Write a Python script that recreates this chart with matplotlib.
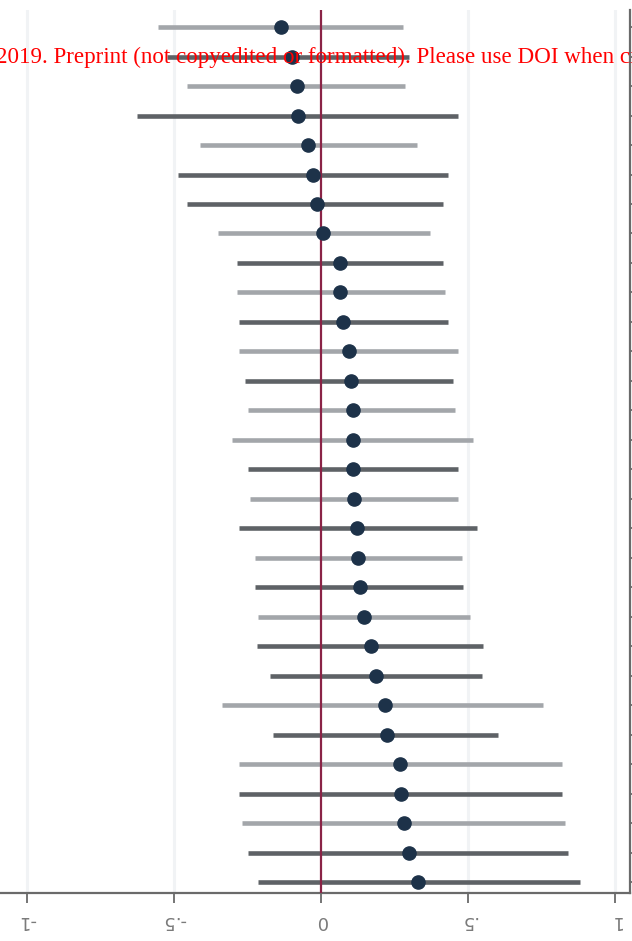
import numpy as np
import matplotlib.pyplot as plt

# point estimates and 95% intervals, listed top row first
est = [-0.136, -0.099, -0.082, -0.078, -0.044, -0.027, -0.014, 0.007, 0.065, 0.065,
       0.075, 0.095, 0.102, 0.109, 0.109, 0.109, 0.112, 0.122, 0.126, 0.133,
       0.146, 0.170, 0.187, 0.218, 0.224, 0.269, 0.272, 0.282, 0.299, 0.330]
lo = [-0.554, -0.524, -0.456, -0.626, -0.412, -0.486, -0.456, -0.350, -0.286, -0.286,
      -0.279, -0.279, -0.259, -0.248, -0.303, -0.248, -0.241, -0.279, -0.224, -0.224,
      -0.214, -0.218, -0.173, -0.337, -0.163, -0.279, -0.279, -0.269, -0.248, -0.214]
hi = [0.279, 0.300, 0.286, 0.466, 0.327, 0.432, 0.415, 0.371, 0.415, 0.422,
      0.432, 0.466, 0.449, 0.456, 0.517, 0.466, 0.466, 0.531, 0.480, 0.483,
      0.507, 0.551, 0.548, 0.755, 0.602, 0.820, 0.820, 0.830, 0.840, 0.881]
# 1 = light interval, 0 = dark interval
light = [1, 0, 1, 0, 1, 0, 0, 1, 0, 1, 0, 1, 0, 1, 1, 0, 1, 0, 1, 0,
         1, 0, 0, 1, 0, 1, 0, 1, 0, 0]

xticks = [-1, -0.5, 0, 0.5, 1]
xticklabels = ['-1', '-.5', '0', '.5', '1']

fig = plt.figure(figsize=(6.32, 9.41), dpi=100)
H = 941.0
ax = fig.add_axes([0, (H - 893) / H, 630 / 632, (893 - 10) / H])

rows = np.arange(1, len(est) + 1)

for xg in [-1, -0.5, 0.5, 1]:
    ax.axvline(xg, color='#f1f3f5', lw=2.2, zorder=0)

for r, e, l, h, g in zip(rows, est, lo, hi, light):
    c = '#a3a6aa' if g else '#5e6266'
    ax.plot([l, h], [r, r], color=c, lw=3.3, solid_capstyle='butt', zorder=2)

ax.axvline(0, color='#8a2346', lw=1.6, zorder=3)
ax.plot(est, rows, 'o', color='#1d3249', ms=9.5, zorder=4)

ax.set_xlim(-1.092, 1.051)
ax.set_ylim(30.37, 0.42)

ax.spines['top'].set_visible(False)
ax.spines['left'].set_visible(False)
ax.spines['bottom'].set_color('#6a6a6a')
ax.spines['bottom'].set_linewidth(1.6)
ax.spines['right'].set_color('#6a6a6a')
ax.spines['right'].set_linewidth(1.6)

ax.set_xticks(xticks)
ax.set_xticklabels(xticklabels, rotation=180, fontsize=13, color='#7a7a7a')
ax.tick_params(axis='x', length=7, width=1.3, color='#6a6a6a', pad=7)
ax.yaxis.tick_right()
ax.set_yticks(rows)
ax.set_yticklabels([])
ax.tick_params(axis='y', length=5, width=1.3, color='#6a6a6a')

fig.text(-0.007, (941 - 63) / H,
         '2019. Preprint (not copyedited or formatted). Please use DOI when citing',
         color='#ff0000', fontsize=16.6, family='Liberation Serif', va='baseline', ha='left',
         zorder=10)

fig.savefig('out.png', dpi=100)
